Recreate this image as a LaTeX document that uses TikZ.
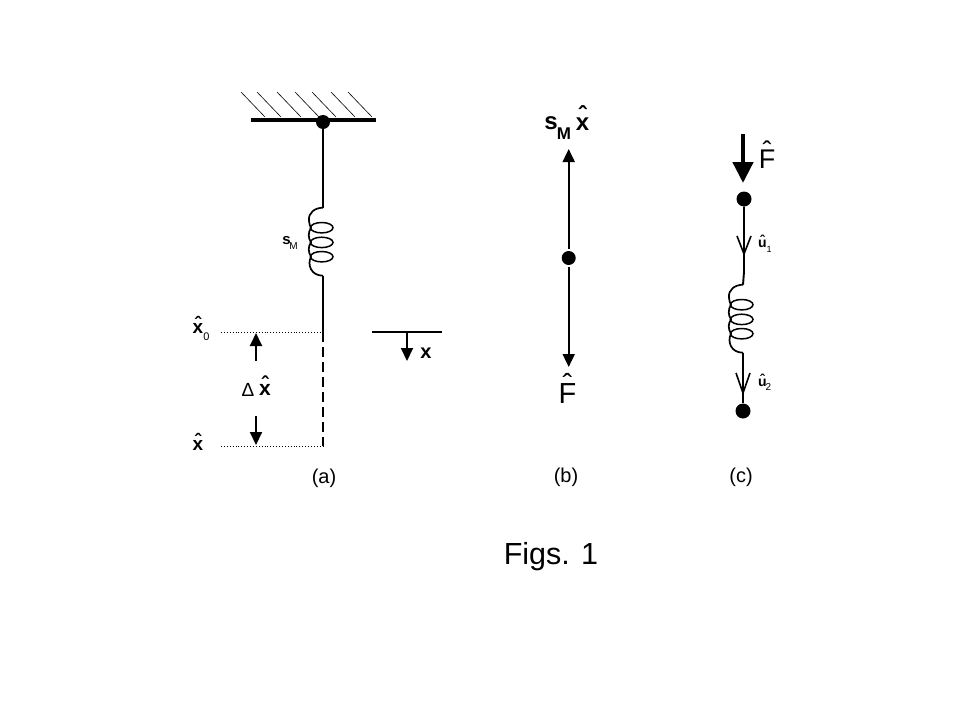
\documentclass[tikz,border=0pt]{standalone}
\usepackage{fontspec}
\setmainfont{Liberation Sans}
\usetikzlibrary{arrows.meta}
\newcommand{\fs}[1]{\fontsize{#1pt}{#1pt}\selectfont}
\newcommand{\hatted}[2]{\leavevmode\vbox{\offinterlineskip\halign{\hfil##\hfil\cr\raisebox{#2}[0pt][0pt]{ˆ}\cr #1\cr}}}
\tikzset{
  x=1pt,y=-1pt,
  lbl/.style={inner sep=0pt,text=black},
  dotn/.style={circle,fill=black,inner sep=0pt,minimum size=#1},
  wire/.style={line width=1.9pt,black},
  hatchl/.style={line width=0.6pt,black},
  dots/.style={line width=0.9pt,dotted,black},
  tiphead/.style={-{Triangle[length=13pt,width=12pt]},line width=1.9pt,black},
  openhead/.style={line width=1.6pt,black},
  pics/coil/.style={code={
    \draw[line width=1.7pt] (0,0) .. controls (-8,0) and (-15,5) .. (-14,13) .. controls (-14,16) and (-13,18) .. (-12,20)
       .. controls (-15,25) and (-15,30) .. (-12,34.7)
       .. controls (-15,39) and (-15,44) .. (-12,49)
       .. controls (-16,57) and (-12,68) .. (0,68);
    \foreach \yy in {20,34.7,49} \draw[line width=1.5pt] (-1.3,\yy) ellipse [x radius=11.3,y radius=5.2];
  }}
}
\begin{document}
\begin{tikzpicture}
\useasboundingbox (0,0) rectangle (960,720);
\fill[white] (0,0) rectangle (960,720);
% (a) wall
\foreach \xx in {241,257,277,295,312,331,348}
  \draw[hatchl] (\xx,92) -- ++(24,25);
\coordinate (wl) at (251,120);
\coordinate (wr) at (376,120);
\draw[line width=3.2pt] (wl) -- (wr);
\node[dotn=14pt] (top) at (323,122) {};
\coordinate (s1t) at (323,207.7);
\coordinate (s1b) at (323,275.7);
\draw[wire] (top) -- (s1t);
\pic at (s1t) {coil};
\coordinate (x0) at (323,332);
\coordinate (x1) at (323,446);
\draw[wire] (s1b) -- (x0);
\draw[wire,dash pattern=on 10pt off 5pt] (x0) -- (x1);
\coordinate (d0) at (221,332);
\coordinate (d1) at (221,446);
\draw[dots] (d0) -- (x0);
\draw[dots] (d1) -- (x1);
\coordinate (au) at (256,361); \coordinate (aut) at (256,333);
\coordinate (ad) at (256,416); \coordinate (adt) at (256,445);
\draw[tiphead] (au) -- (aut);
\draw[tiphead] (ad) -- (adt);
\coordinate (rl) at (372,332); \coordinate (rr) at (442,332);
\coordinate (rm) at (407,332); \coordinate (rt) at (407,361);
\draw[line width=1.1pt] (rl) -- (rr);
\draw[tiphead] (rm) -- (rt);
\node[lbl] (lx) at (426,353.5) {\fs{20}\bfseries x};
\node[lbl] (lx0) at (198,328.5) {\fs{19}\bfseries\hatted{x}{-0.38em}};
\node[lbl] (l0) at (206.5,337) {\fs{11}0};
\node[lbl] (lxh) at (198,445.5) {\fs{19}\bfseries\hatted{x}{-0.38em}};
\node[lbl] (ldel) at (248,389.5) {\fs{19}Δ};
\node[lbl] (ldx) at (265,389.5) {\fs{21}\bfseries\hatted{x}{-0.38em}};
\node[lbl] (la) at (324,478) {\fs{20}(a)};
\node[lbl] (ls) at (286.5,241) {\fs{15}\bfseries s};
\node[lbl] (lm) at (293.5,246.5) {\fs{10}M};
% (b)
\node[dotn=14pt] (bd) at (568.7,258) {};
\coordinate (bt) at (568.7,149);
\coordinate (bb) at (568.7,367);
\draw[tiphead] ([yshift=2pt]bd.north) -- (bt);
\draw[tiphead] ([yshift=-2pt]bd.south) -- (bb);
\node[lbl] (bs) at (551,123) {\fs{24}\bfseries s};
\node[lbl] (bm) at (564,134) {\fs{17}\bfseries M};
\node[lbl] (bx) at (582.5,124.3) {\fs{24}\bfseries\hatted{x}{-0.25em}};
\node[lbl] (bf) at (567.5,393.5) {\fs{29}\hatted{F}{-0.38em}};
\node[lbl] (lb) at (566,477) {\fs{20}(b)};
% (c)
\coordinate (ft) at (743,134);
\coordinate (fb) at (743,183);
\draw[-{Triangle[length=21pt,width=20pt]},line width=4.5pt] (ft) -- (fb);
\node[lbl] (cf) at (767,159.5) {\fs{27}\hatted{F}{-0.38em}};
\node[dotn=15pt] (ct) at (744,199) {};
\coordinate (v1) at (744,254);
\coordinate (j1) at (744,272);
\coordinate (s2t) at (743,284.7);
\coordinate (s2b) at (743,352.7);
\draw[wire] (ct) -- (v1) -- (j1) -- (s2t);
\draw[openhead] (737,236) -- (v1) -- (751,236);
\pic at (s2t) {coil};
\node[dotn=15pt] (cb) at (743,411) {};
\coordinate (v2) at (743,393);
\draw[wire] (s2b) -- (cb);
\draw[openhead] (736,373) -- (v2) -- (750,373);
\node[lbl] (u1) at (762.5,244) {\fs{14}\bfseries\hatted{u}{-0.38em}};
\node[lbl] (n1) at (769,249) {\fs{9}1};
\node[lbl] (u2) at (762.5,382.5) {\fs{14}\bfseries\hatted{u}{-0.38em}};
\node[lbl] (n2) at (768.5,387) {\fs{10}2};
\node[lbl] (lc) at (741,477) {\fs{20}(c)};
\node[lbl] (figs) at (551,557) {\fs{30.5}Figs. 1};
\end{tikzpicture}
\end{document}
